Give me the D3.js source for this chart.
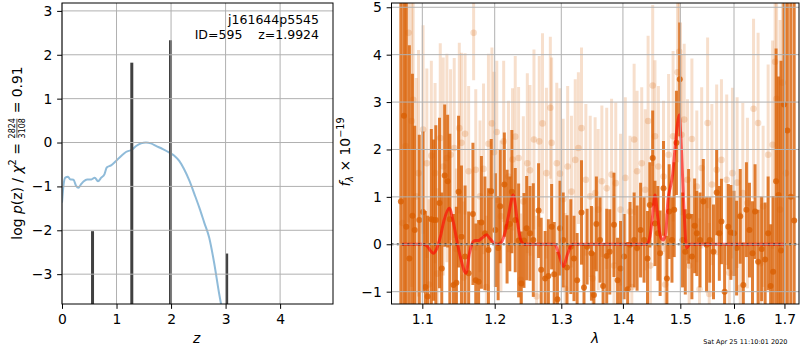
<!DOCTYPE html>
<html>
<head>
<meta charset="utf-8">
<script src="https://cdn.jsdelivr.net/npm/d3@7"></script>
<style>
  body { margin: 0; background: #fff; }
  text { font-family: 'DejaVu Sans', sans-serif; white-space: pre; }
</style>
</head>
<body>
<div id="chart"></div>
<script>
// p(z) panel
const zGrid = [0, 0.03, 0.06, 0.11, 0.15, 0.21, 0.26, 0.30, 0.35, 0.40, 0.46, 0.54, 0.60, 0.66, 0.72, 0.78, 0.82, 0.90, 0.99, 1.09,
  1.18, 1.27, 1.36, 1.45, 1.54, 1.63, 1.73, 1.85, 1.97, 2.06, 2.15, 2.24, 2.34, 2.43, 2.52, 2.61, 2.70, 2.79, 2.88, 2.95];
const logPz = [-1.37, -0.95, -0.80, -0.78, -0.84, -0.85, -0.99, -1.03, -0.95, -0.88, -0.84, -0.84, -0.80, -0.88, -0.80, -0.72, -0.57, -0.52, -0.42, -0.30,
  -0.21, -0.17, -0.08, -0.02, 0.0, -0.02, -0.08, -0.15, -0.23, -0.30, -0.42, -0.61, -0.88, -1.18, -1.49, -1.83, -2.17, -2.74, -3.43, -3.9];
const zPeaks = [0.56, 1.28, 1.99, 3.02];
const peakTops = [-2.02, 1.82, 2.33, -2.53];
const zTicks = [0, 1, 2, 3, 4];
const pzTicks = [-3, -2, -1, 0, 1, 2, 3];

// spectrum panel, dark series
const waveDark = [1.072, 1.076, 1.079, 1.083, 1.087, 1.090, 1.096, 1.101, 1.104, 1.107,
  1.112, 1.115, 1.118, 1.123, 1.126, 1.130, 1.134, 1.137, 1.142, 1.146,
  1.149, 1.153, 1.158, 1.163, 1.169, 1.173, 1.177, 1.181, 1.186, 1.191,
  1.195, 1.201, 1.205, 1.208, 1.214, 1.218, 1.222, 1.225, 1.230, 1.235,
  1.239, 1.243, 1.247, 1.252, 1.257, 1.265, 1.269, 1.275, 1.280, 1.285,
  1.289, 1.294, 1.298, 1.303, 1.309, 1.315, 1.320, 1.325, 1.332, 1.336,
  1.341, 1.348, 1.352, 1.356, 1.362, 1.367, 1.373, 1.378, 1.385, 1.391,
  1.396, 1.402, 1.408, 1.412, 1.419, 1.424, 1.430, 1.436, 1.442, 1.446,
  1.451, 1.455, 1.460, 1.464, 1.470, 1.476, 1.480, 1.485, 1.489, 1.493,
  1.499, 1.504, 1.509, 1.515, 1.521, 1.526, 1.530, 1.536, 1.542, 1.548,
  1.554, 1.561, 1.567, 1.572, 1.576, 1.582, 1.589, 1.594, 1.600, 1.605,
  1.612, 1.618, 1.624, 1.630, 1.636, 1.641, 1.647, 1.654, 1.661, 1.667,
  1.672, 1.677, 1.683, 1.688, 1.693, 1.699, 1.706, 1.713, 1.720];
const fluxDark = [0.9, 2.71, 0.37, -0.30, 0.60, 0.30, 0.51, 0.68, -0.90, -1.10,
  0.53, 0.51, 0.51, 0.87, -0.51, 1.45, 1.33, 0.53, -0.86, -0.81,
  1.11, 0.16, -0.26, -0.61, 0.64, -0.76, -0.79, 0.46, 0.23, -0.12,
  1.12, 0.30, -0.08, 0.80, 1.26, 0.37, 0.43, 1.11, 0.51, 0.08,
  -0.83, 0.08, 0.34, 0.23, 0.09, 0.71, -0.54, -0.72, -0.67, 0.37,
  -0.63, -1.16, 0.34, 0.09, -0.49, -0.05, -0.30, -0.76, 0.67, -0.91,
  -0.05, -0.19, -1.07, 0.43, 0.09, -0.88, -0.25, -0.16, 0.41, -0.76,
  -0.51, -0.26, -0.95, -0.01, 0.09, -0.08, 0.30, 0.09, -0.30, 0.83,
  1.82, 0.44, 0.23, -0.19, 1.18, -0.72, 0.69, 0.09, 0.73, 2.14,
  3.48, 0.09, -0.16, 0.59, -0.26, 0.39, 0.23, 0.09, 0.90, -0.01,
  0.09, -0.16, 1.09, 0.23, 0.48, -1.00, 0.37, 0.25, 0.23, -0.08,
  0.59, -0.86, 0.73, 0.30, -0.19, 0.69, -0.37, -0.10, -0.32, 0.23,
  -0.88, -0.58, 1.33, 1.04, -0.13, 2.95, 2.40, 1.0, 0.5];
const errDark = [6, 5, 5, 4.5, 3, 2.2, 1.8, 1.7, 1.6, 1.7,
  1.9, 1.7, 2.0, 1.8, 1.6, 1.5, 1.4, 1.8, 1.5, 1.6,
  1.6, 1.5, 1.5, 1.3, 1.5, 1.2, 1.3, 1.4, 1.2, 1.3,
  1.1, 1.2, 1.1, 1.2, 1.1, 1.2, 1.0, 1.3, 1.1, 1.2,
  1.1, 1.0, 1.1, 1.0, 1.2, 1.0, 1.1, 1.0, 1.2, 0.9,
  1.1, 1.0, 1.0, 1.0, 1.1, 1.0, 0.9, 1.0, 1.1, 0.9,
  0.8, 1.0, 0.9, 1.0, 0.9, 0.9, 1.0, 0.9, 1.1, 0.9,
  1.0, 0.9, 1.0, 0.9, 1.0, 0.9, 1.0, 0.9, 1.0, 0.9,
  1.0, 0.9, 1.0, 0.9, 1.0, 0.9, 1.0, 0.9, 1.0, 1.1,
  1.2, 1.0, 0.9, 1.0, 0.9, 1.0, 0.9, 1.0, 0.9, 1.0,
  0.9, 1.0, 0.9, 1.0, 0.9, 1.0, 0.9, 1.0, 0.9, 1.0,
  1.0, 0.9, 1.0, 1.0, 1.1, 1.0, 1.1, 1.1, 1.2, 1.2,
  1.3, 1.6, 2.8, 2.5, 4, 6, 6, 6, 6];

// spectrum panel, light series
const waveLight = [1.074, 1.078, 1.082, 1.086, 1.088, 1.092, 1.095, 1.101, 1.106, 1.109,
  1.112, 1.117, 1.120, 1.124, 1.128, 1.133, 1.138, 1.143, 1.146, 1.150,
  1.153, 1.156, 1.158, 1.163, 1.170, 1.173, 1.179, 1.184, 1.188, 1.191,
  1.196, 1.199, 1.203, 1.209, 1.213, 1.220, 1.226, 1.230, 1.235, 1.238,
  1.242, 1.248, 1.252, 1.258, 1.262, 1.266, 1.271, 1.277, 1.283, 1.285,
  1.293, 1.298, 1.303, 1.306, 1.310, 1.316, 1.322, 1.327, 1.332, 1.339,
  1.346, 1.350, 1.354, 1.359, 1.365, 1.373, 1.381, 1.385, 1.388, 1.396,
  1.404, 1.412, 1.415, 1.419, 1.424, 1.432, 1.438, 1.443, 1.447, 1.451,
  1.455, 1.461, 1.470, 1.473, 1.479, 1.487, 1.495, 1.498, 1.502, 1.507,
  1.513, 1.516, 1.521, 1.530, 1.535, 1.539, 1.550, 1.553, 1.558, 1.567,
  1.576, 1.586, 1.591, 1.597, 1.606, 1.612, 1.617, 1.626, 1.638, 1.647,
  1.652, 1.657, 1.667, 1.676, 1.681, 1.684, 1.691, 1.696, 1.703];
const fluxLight = [0.45, 2.07, 4.46, 2.60, 3.05, 1.01, 1.50, 2.42, 1.71, -0.85,
  1.87, 1.50, -0.62, 2.24, 1.64, 1.82, 1.89, 2.03, -0.10, 2.45,
  2.14, -0.70, 2.33, 1.54, 4.46, 1.57, 1.01, 1.59, -0.90, 2.12,
  2.55, 1.94, 2.37, 0.59, 2.17, 1.43, 1.79, 2.27, 1.82, -0.75,
  0.90, 1.71, 1.56, 2.21, -1.10, 2.17, 2.55, 1.50, 2.88, 2.14,
  1.71, 1.49, 0.95, -0.94, 1.64, 1.11, 1.78, 2.03, 2.45, 1.36,
  1.01, -0.72, 1.08, 0.73, 1.33, 1.18, 1.47, -0.45, 1.29, 0.73,
  1.40, 0.69, -0.90, 2.21, 1.54, 1.71, 1.15, 2.60, -0.45, 3.35,
  2.28, 1.64, 1.43, -0.85, 1.89, 2.28, 3.63, 4.06, 2.31, 2.63,
  1.36, -0.45, 2.22, 1.22, -0.95, 1.61, 2.56, -1.05, 1.26, 1.57,
  1.78, 1.36, -0.60, 1.50, 1.30, -0.92, 1.08, 0.87, 2.86, 2.56,
  -0.40, 0.80, 1.89, 2.10, 3.85, 3.07, 0.73, 3.41, 1.50];
const errLight = [5.5, 5, 4, 3.5, 3, 2.5, 2.6, 2.2, 2.0, 1.8,
  2.0, 1.9, 1.8, 2.0, 2.3, 2.2, 1.8, 1.9, 1.7, 1.8,
  1.9, 1.6, 1.7, 1.8, 1.0, 1.7, 1.6, 1.8, 1.5, 1.9,
  1.6, 1.7, 1.5, 1.6, 1.7, 1.6, 1.5, 1.7, 1.5, 1.4,
  1.8, 1.9, 1.8, 1.9, 1.7, 1.8, 1.9, 1.8, 1.5, 1.8,
  1.7, 1.8, 1.7, 1.6, 1.7, 1.6, 1.7, 1.6, 1.7, 1.6,
  1.7, 1.5, 1.6, 1.7, 1.6, 1.7, 1.6, 1.5, 1.7, 1.6,
  1.7, 1.6, 1.5, 1.6, 1.7, 1.6, 1.7, 1.8, 1.5, 1.7,
  1.6, 1.7, 1.6, 1.5, 1.7, 1.8, 1.9, 1.5, 1.7, 1.6,
  1.7, 1.5, 1.7, 1.6, 1.5, 1.7, 1.8, 1.5, 1.7, 1.8,
  1.7, 1.8, 1.6, 1.8, 1.8, 1.6, 1.9, 1.8, 1.9, 1.9,
  1.4, 1.7, 1.9, 2.2, 2.5, 3, 4, 5, 6];

// best-fit model
const waveModel = [1.073, 1.100, 1.106, 1.110, 1.1146, 1.119, 1.124, 1.129, 1.1363, 1.142,
  1.147, 1.152, 1.1593, 1.164, 1.168, 1.172, 1.177, 1.181, 1.1885, 1.193,
  1.198, 1.204, 1.210, 1.215, 1.220, 1.2271, 1.233, 1.238, 1.243, 1.290,
  1.296, 1.3032, 1.310, 1.317, 1.440, 1.446, 1.450, 1.455, 1.460, 1.465,
  1.4696, 1.474, 1.4779, 1.482, 1.486, 1.4903, 1.4945, 1.4980, 1.502, 1.506,
  1.5115, 1.517, 1.701];
const fluxModel = [0, 0, -0.03, -0.12, -0.19, -0.1, 0.15, 0.5, 0.76, 0.45,
  0.05, -0.3, -0.61, -0.2, 0.02, 0.08, 0.08, 0.12, 0.2, 0.12,
  0.04, 0.0, 0.05, 0.25, 0.6, 1.04, 0.5, 0.1, 0.0, 0.0,
  -0.2, -0.47, -0.2, 0.0, 0.0, 0.15, 0.5, 1.04, 0.55, 0.15,
  0.09, 0.25, 0.94, 1.2, 1.45, 2.0, 2.5, 2.73, 2.0, 0.9,
  -0.08, 0.0, 0.0];
const waveTicks = [1.1, 1.2, 1.3, 1.4, 1.5, 1.6, 1.7];
const fluxTicks = [-1, 0, 1, 2, 3, 4, 5];

const tickLen = 4.86;
const fontSize = 13.9;
const darkColor = '#d95f02';
const gridColor = '#b0b0b0';

const svg = d3.select('#chart')
  .append('svg')
  .attr('width', 800)
  .attr('height', 350)
  .style('background', '#fff');

const defs = svg.append('defs');

function addClip(id, x0, x1, y0, y1) {
  defs.append('clipPath').attr('id', id)
    .append('rect')
    .attr('x', x0).attr('y', y0)
    .attr('width', x1 - x0).attr('height', y1 - y0);
}

function drawGrid(g, x, y, xTicks, yTicks) {
  const grid = g.append('g');
  grid.selectAll('line.gx')
    .data(xTicks)
    .enter().append('line')
    .attr('x1', d => x(d)).attr('x2', d => x(d))
    .attr('y1', y.range()[0]).attr('y2', y.range()[1])
    .style('stroke', gridColor).style('stroke-width', 1);
  grid.selectAll('line.gy')
    .data(yTicks)
    .enter().append('line')
    .attr('x1', x.range()[0]).attr('x2', x.range()[1])
    .attr('y1', d => y(d)).attr('y2', d => y(d))
    .style('stroke', gridColor).style('stroke-width', 1);
}

function drawAxes(g, x, y, xTicks, yTicks, xFormat) {
  const ax = g.append('g')
    .attr('transform', 'translate(0,' + y.range()[0] + ')')
    .call(d3.axisBottom(x).tickValues(xTicks).tickFormat(xFormat)
      .tickSize(tickLen).tickPadding(tickLen).tickSizeOuter(0));
  const ay = g.append('g')
    .attr('transform', 'translate(' + x.range()[0] + ',0)')
    .call(d3.axisLeft(y).tickValues(yTicks).tickFormat(d3.format('d'))
      .tickSize(tickLen).tickPadding(tickLen).tickSizeOuter(0));
  [ax, ay].forEach(function(a) {
    a.select('.domain').remove();
    a.selectAll('text').style('font-size', fontSize + 'px').style('fill', '#000')
      .style('font-family', "'DejaVu Sans', sans-serif");
    a.selectAll('line').style('stroke', '#000').style('stroke-width', 1);
  });
  g.append('rect')
    .attr('x', x.range()[0]).attr('y', y.range()[1])
    .attr('width', x.range()[1] - x.range()[0])
    .attr('height', y.range()[0] - y.range()[1])
    .style('fill', 'none').style('stroke', '#000').style('stroke-width', 1);
}

// ---- left panel: p(z)
const xz = d3.scaleLinear().domain([0, 4.97]).range([62, 333]);
const yz = d3.scaleLinear().domain([-3.68, 3.18]).range([304, 3]);
addClip('clipLeft', 62, 333, 3, 304);

const left = svg.append('g');
const leftData = left.append('g').attr('clip-path', 'url(#clipLeft)');

leftData.append('path')
  .datum(d3.range(zGrid.length))
  .attr('d', d3.line().x(i => xz(zGrid[i])).y(i => yz(logPz[i])).curve(d3.curveMonotoneX))
  .style('fill', 'none')
  .style('stroke', '#1f77b4')
  .style('stroke-opacity', 0.5)
  .style('stroke-width', 2);

leftData.selectAll('line.peak')
  .data(d3.range(zPeaks.length))
  .enter().append('line')
  .attr('class', 'peak')
  .attr('x1', i => xz(zPeaks[i])).attr('x2', i => xz(zPeaks[i]))
  .attr('y1', yz(-3.68)).attr('y2', i => yz(peakTops[i]))
  .style('stroke', '#404040')
  .style('stroke-width', 3);

drawGrid(left, xz, yz, zTicks, pzTicks);
drawAxes(left, xz, yz, zTicks, pzTicks, d3.format('d'));

left.append('text')
  .attr('x', 319).attr('y', 24)
  .attr('text-anchor', 'end')
  .style('font-size', '12.5px')
  .text('j161644p5545');
left.append('text')
  .attr('x', 319).attr('y', 39)
  .attr('text-anchor', 'end')
  .style('font-size', '12.5px')
  .text('ID=595    z=1.9924');

left.append('text')
  .attr('x', xz(2.47)).attr('y', 343)
  .attr('text-anchor', 'middle')
  .style('font-size', fontSize + 'px')
  .style('font-style', 'italic')
  .text('z');

// y label with the chi2 fraction
const ylab = left.append('g');
const part1 = ylab.append('text').style('font-size', fontSize + 'px');
part1.append('tspan').text('log ');
part1.append('tspan').style('font-style', 'italic').text('p');
part1.append('tspan').text('(z) / ');
part1.append('tspan').style('font-style', 'italic').text('χ');
part1.append('tspan').attr('dy', -5.5).style('font-size', '9.7px').text('2');
part1.append('tspan').attr('dy', 5.5).text(' = ');
const w1 = part1.node().getComputedTextLength();
const fracW = 21;
ylab.append('text')
  .attr('x', w1 + fracW / 2).attr('y', -6.2)
  .attr('text-anchor', 'middle')
  .style('font-size', '8px')
  .text('2824');
ylab.append('text')
  .attr('x', w1 + fracW / 2).attr('y', 3.8)
  .attr('text-anchor', 'middle')
  .style('font-size', '8px')
  .text('3108');
ylab.append('line')
  .attr('x1', w1 + 1).attr('x2', w1 + fracW - 1)
  .attr('y1', -4.6).attr('y2', -4.6)
  .style('stroke', '#000').style('stroke-width', 0.7);
const part2 = ylab.append('text')
  .attr('x', w1 + fracW)
  .style('font-size', fontSize + 'px')
  .text(' = 0.91');
const totalW = w1 + fracW + part2.node().getComputedTextLength();
ylab.attr('transform', 'translate(21.5,' + (153 + totalW / 2) + ') rotate(-90)');

// ---- right panel: spectrum
const xw = d3.scaleLog().domain([1.06, 1.73]).range([391.5, 799]);
const yf = d3.scaleLinear().domain([-1.26, 5.09]).range([304, 3]);
addClip('clipRight', 391.5, 799, 3, 304);

const right = svg.append('g');
const rightData = right.append('g').attr('clip-path', 'url(#clipRight)');

function drawSeries(g, waves, fluxes, errs, opacity, radius) {
  g.append('g').selectAll('line')
    .data(d3.range(waves.length))
    .enter().append('line')
    .attr('x1', i => xw(waves[i])).attr('x2', i => xw(waves[i]))
    .attr('y1', i => yf(fluxes[i] - errs[i]))
    .attr('y2', i => yf(fluxes[i] + errs[i]))
    .style('stroke', darkColor)
    .style('stroke-opacity', opacity)
    .style('stroke-width', 3);
  g.append('g').selectAll('circle')
    .data(d3.range(waves.length))
    .enter().append('circle')
    .attr('cx', i => xw(waves[i]))
    .attr('cy', i => yf(fluxes[i]))
    .attr('r', radius)
    .style('fill', darkColor)
    .style('fill-opacity', opacity);
}

drawSeries(rightData, waveLight, fluxLight, errLight, 0.2, 3.3);
drawSeries(rightData, waveDark, fluxDark, errDark, 0.8, 3);

drawGrid(right, xw, yf, waveTicks, fluxTicks);

rightData.append('path')
  .datum(d3.range(waveModel.length))
  .attr('d', d3.line().x(i => xw(waveModel[i])).y(i => yf(fluxModel[i])).curve(d3.curveMonotoneX))
  .style('fill', 'none')
  .style('stroke', 'red')
  .style('stroke-opacity', 0.6)
  .style('stroke-width', 3);

rightData.append('line')
  .attr('x1', 391.5).attr('x2', 799)
  .attr('y1', yf(0)).attr('y2', yf(0))
  .style('stroke', '#000')
  .style('stroke-opacity', 0.8)
  .style('stroke-width', 2)
  .style('stroke-dasharray', '2,3.3');

drawAxes(right, xw, yf, waveTicks, fluxTicks, d3.format('.1f'));

right.append('text')
  .attr('x', xw(1.354)).attr('y', 343)
  .attr('text-anchor', 'middle')
  .style('font-size', fontSize + 'px')
  .style('font-style', 'italic')
  .text('λ');

const flab = right.append('text')
  .attr('transform', 'translate(349.5,152) rotate(-90)')
  .attr('text-anchor', 'middle')
  .style('font-size', fontSize + 'px');
flab.append('tspan').style('font-style', 'italic').text('f');
flab.append('tspan').attr('dy', 3).style('font-size', '9.7px').style('font-style', 'italic').text('λ');
flab.append('tspan').attr('dy', -3).text(' × 10');
flab.append('tspan').attr('dy', -5.5).style('font-size', '9.7px').text('−19');

svg.append('text')
  .attr('x', 787.5).attr('y', 344)
  .attr('text-anchor', 'end')
  .style('font-size', '6.5px')
  .text('Sat Apr 25 11:10:01 2020');
</script>
</body>
</html>
